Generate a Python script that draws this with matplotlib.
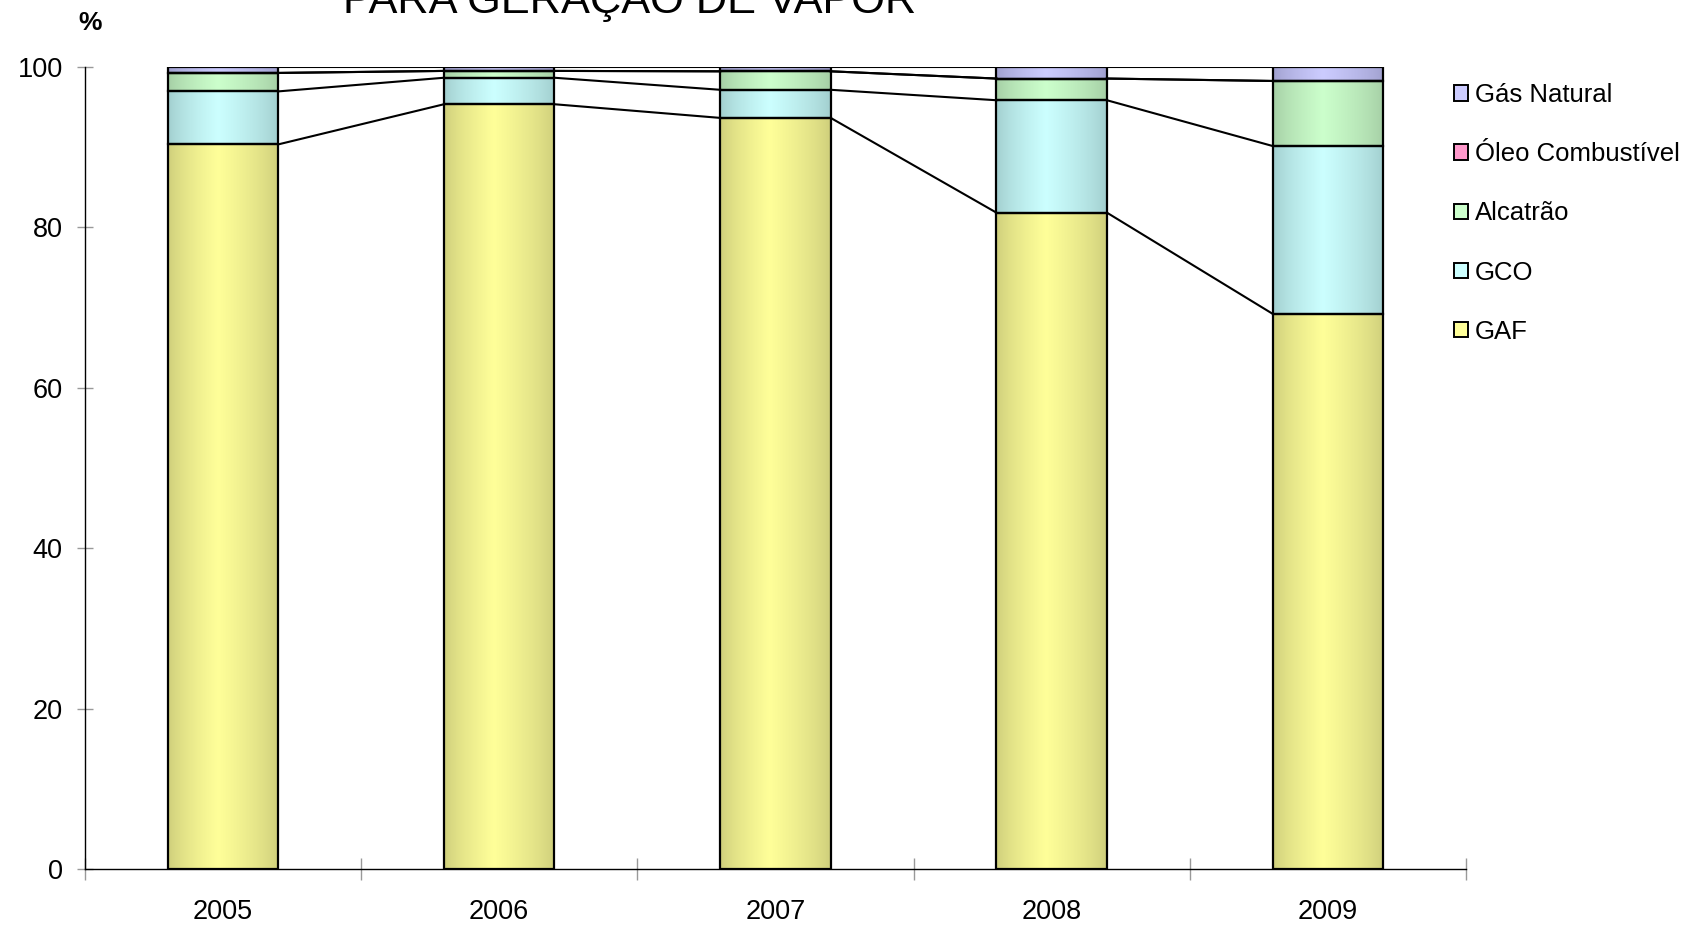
import matplotlib.pyplot as plt
import numpy as np
from matplotlib.patches import Patch
from matplotlib.colors import to_rgb

plt.rcParams["font.family"] = ["Liberation Sans", "DejaVu Sans"]

years = ["2005", "2006", "2007", "2008", "2009"]

# shares (%) of each fuel, stacked bottom to top
gaf = [90.3, 95.3, 93.6, 81.8, 69.2]
gco = [6.6, 3.3, 3.5, 14.0, 20.9]
alcatrao = [2.3, 0.85, 2.3, 2.7, 8.1]
oleo = [0.0, 0.0, 0.0, 0.0, 0.0]
gas_natural = [0.8, 0.55, 0.6, 1.5, 1.8]

series_names = ["GAF", "GCO", "Alcatrão", "Óleo Combustível", "Gás Natural"]
series_values = [gaf, gco, alcatrao, oleo, gas_natural]
# (light centre, darker edge) for the cylinder-like shading
series_colors = [
    ("#FFFF99", "#CCCC7A"),
    ("#CCFFFF", "#A0CCCC"),
    ("#CCFFCC", "#A3CCA3"),
    ("#FF99CC", "#CC7AA3"),
    ("#CCCCFF", "#9E9ECC"),
]


def gradient_row(light, dark, n=200):
    # dark at both edges, brightest a bit left of centre
    t = np.linspace(0, 1, n)
    peak = 0.45
    w = np.where(t < peak, t / peak, (1 - t) / (1 - peak))
    w = np.clip(w, 0, 1) ** 0.7
    lo = np.array(to_rgb(dark))
    hi = np.array(to_rgb(light))
    row = lo[None, :] + (hi - lo)[None, :] * w[:, None]
    return row[None, :, :]


fig = plt.figure(figsize=(16.85, 9.25), dpi=100)
ax = fig.add_axes([0.0504, 0.0601, 0.8196, 0.868])

x = np.arange(len(years))
width = 0.4
bottom = np.zeros(len(years))
tops = []
for name, vals, (light, dark) in zip(series_names, series_values, series_colors):
    vals = np.array(vals, dtype=float)
    img = gradient_row(light, dark)
    for xi, b, v in zip(x, bottom, vals):
        if v > 0:
            ax.imshow(img, extent=[xi - width / 2, xi + width / 2, b, b + v],
                      aspect="auto", interpolation="bilinear", zorder=2)
    ax.bar(x, vals, width, bottom=bottom, facecolor="none",
           edgecolor="black", linewidth=1.6, zorder=3)
    bottom = bottom + vals
    tops.append(bottom.copy())

# series lines joining the stacked levels of neighbouring bars
for level in tops:
    for i in range(len(x) - 1):
        ax.plot([x[i] + width / 2, x[i + 1] - width / 2], [level[i], level[i + 1]],
                color="black", linewidth=1.5, zorder=3)

ax.set_xlim(-0.5, len(years) - 0.5)
ax.set_ylim(0, 100)
ax.set_yticks(np.arange(0, 101, 20))
ax.set_xticks(x)
ax.set_xticklabels(years)
ax.set_xticks(np.arange(-0.5, len(years)), minor=True)
ax.tick_params(axis="x", which="major", length=0, pad=21, labelsize=19.5)
ax.tick_params(axis="x", which="minor", direction="inout", length=16,
               color="#999999", width=1)
ax.tick_params(axis="y", direction="inout", length=12, color="#999999",
               width=1, pad=10, labelsize=19.5)

for side in ("top", "right"):
    ax.spines[side].set_visible(False)
for side in ("left", "bottom"):
    ax.spines[side].set_color("black")
    ax.spines[side].set_linewidth(1.0)

fig.text(0.0534, 1 - 23 / 925, "%", fontsize=19, fontweight="bold",
         ha="center", va="center")
fig.text(630 / 1685, 1 - 13.5 / 925, "PARA GERAÇÃO DE VAPOR", fontsize=31.2,
         ha="center", va="baseline")

handles = [Patch(facecolor=c[0], edgecolor="black", linewidth=1.4)
           for c in series_colors]
leg = fig.legend(handles[::-1], series_names[::-1], loc="upper left",
                 bbox_to_anchor=(1454 / 1685, 1 - 83 / 925), frameon=False,
                 fontsize=18.5, borderpad=0, borderaxespad=0,
                 handlelength=0.55, handleheight=0.55, handletextpad=0.25,
                 labelspacing=1.37)

fig.savefig("out.png", dpi=100)
